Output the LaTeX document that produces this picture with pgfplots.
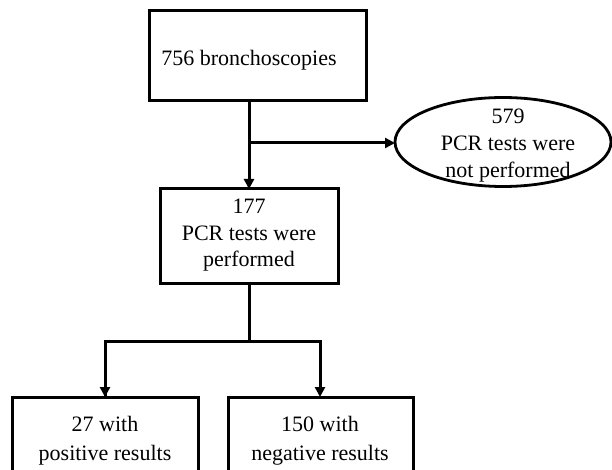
\documentclass[border=0pt]{standalone}
\usepackage{pgfplots}
\pgfplotsset{compat=1.18}
\usepackage{fontspec}
\setmainfont{Liberation Serif}
\usetikzlibrary{arrows.meta}
\begin{document}
\begin{tikzpicture}
\begin{axis}[
  width=612pt, height=470pt, scale only axis,
  xmin=0, xmax=612, ymin=0, ymax=470, y dir=reverse,
  axis lines=none, clip=true,
]
\addplot[draw=none] coordinates {(0,0) (612,470)};
% boxes
\addplot[black, line width=3pt, line join=miter, line cap=rect] coordinates {(149,11) (366,11) (366,101) (149,101) (149,11)};
\addplot[black, line width=3pt, line join=miter, line cap=rect] coordinates {(160,189) (338,189) (338,283) (160,283) (160,189)};
\addplot[black, line width=3pt, line join=miter] coordinates {(12,480) (12,397) (198,397) (198,480)};
\addplot[black, line width=3pt, line join=miter] coordinates {(228,480) (228,397) (413,397) (413,480)};
% ellipse
\draw[black, line width=2.8pt] (axis cs:503,142) ellipse [x radius=108pt, y radius=44.5pt];
% arrows
\addplot[black, line width=3pt, -{Triangle[width=10pt,length=10pt]}] coordinates {(249,101) (249,189)};
\addplot[black, line width=3pt, -{Triangle[width=10pt,length=10pt]}] coordinates {(248,143) (395,143)};
\addplot[black, line width=3pt] coordinates {(249,283) (249,342)};
\addplot[black, line width=3pt, -{Triangle[width=10pt,length=10pt]}, line join=miter] coordinates {(105,397) (105,341) (320,341) (320,397)};
\addplot[black, line width=3pt, -{Triangle[width=10pt,length=10pt]}] coordinates {(105,342) (105,397)};
% text
\node[anchor=base, font=\fontsize{22}{26}\selectfont] at (axis cs:249,66) {756 bronchoscopies};
\node[anchor=base, font=\fontsize{22}{26}\selectfont] at (axis cs:249,214) {177};
\node[anchor=base, font=\fontsize{22}{26}\selectfont] at (axis cs:249,240) {PCR tests were};
\node[anchor=base, font=\fontsize{22}{26}\selectfont] at (axis cs:249,266) {performed};
\node[anchor=base, font=\fontsize{22}{26}\selectfont] at (axis cs:508,124) {579};
\node[anchor=base, font=\fontsize{22}{26}\selectfont] at (axis cs:508,151) {PCR tests were};
\node[anchor=base, font=\fontsize{22}{26}\selectfont] at (axis cs:508,178) {not performed};
\node[anchor=base, font=\fontsize{22}{26}\selectfont] at (axis cs:105,431) {27 with};
\node[anchor=base, font=\fontsize{22}{26}\selectfont] at (axis cs:105,460) {positive results};
\node[anchor=base, font=\fontsize{22}{26}\selectfont] at (axis cs:320,431) {150 with};
\node[anchor=base, font=\fontsize{22}{26}\selectfont] at (axis cs:320,460) {negative results};
\end{axis}
\end{tikzpicture}
\end{document}
